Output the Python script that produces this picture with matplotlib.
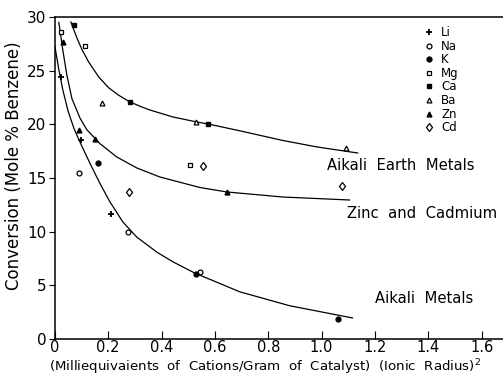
import matplotlib
matplotlib.use("Agg")
import matplotlib.pyplot as plt

# measured points, one list per cation
li_x = [0.022, 0.097, 0.21]
li_y = [24.4, 18.5, 11.6]
na_x = [0.09, 0.273, 0.543]
na_y = [15.5, 10.0, 6.2]
k_x = [0.161, 0.53, 1.06]
k_y = [16.4, 6.1, 1.9]
mg_x = [0.022, 0.112, 0.506]
mg_y = [28.6, 27.3, 16.2]
ca_x = [0.071, 0.28, 0.573]
ca_y = [29.3, 22.1, 20.0]
ba_x = [0.176, 0.528, 1.093]
ba_y = [22.0, 20.2, 17.8]
zn_x = [0.03, 0.09, 0.15, 0.647]
zn_y = [27.7, 19.5, 18.6, 13.7]
cd_x = [0.277, 0.555, 1.078]
cd_y = [13.7, 16.1, 14.3]

# hand drawn curves
earth_x = [0.060, 0.082, 0.101, 0.127, 0.165, 0.202, 0.240, 0.281, 0.326, 0.356,
           0.442, 0.532, 0.581, 0.693, 0.854, 0.981, 1.135]
earth_y = [29.54, 28.1, 27.0, 25.8, 24.4, 23.4, 22.7, 22.09, 21.62, 21.34,
           20.69, 20.22, 20.0, 19.4, 18.5, 17.9, 17.33]
zinc_x = [0.015, 0.030, 0.045, 0.064, 0.094, 0.120, 0.169, 0.232, 0.307, 0.393,
          0.543, 0.644, 0.854, 1.105]
zinc_y = [29.5, 26.9, 24.6, 22.4, 20.6, 19.5, 18.2, 16.96, 15.94, 15.1,
          14.12, 13.70, 13.23, 12.95]
alk_x = [0.0, 0.015, 0.030, 0.050, 0.072, 0.097, 0.131, 0.169, 0.206, 0.255,
         0.307, 0.382, 0.442, 0.524, 0.693, 0.880, 1.116]
alk_y = [27.3, 25.1, 23.2, 21.2, 19.6, 18.2, 16.4, 14.5, 12.8, 10.9,
         9.5, 8.1, 7.2, 6.15, 4.4, 3.1, 1.96]

xticks = [0, 0.2, 0.4, 0.6, 0.8, 1.0, 1.2, 1.4, 1.6]
xticklabels = ["0", "0.2", "0.4", "0.6", "0.8", "1.0", "1.2", "1.4", "1.6"]
yticks = [0, 5, 10, 15, 20, 25, 30]

fig = plt.figure(figsize=(5.03, 3.77), dpi=100)
ax = fig.add_axes([0.109, 0.1008, 0.891, 0.8541])

for cx, cy in [(earth_x, earth_y), (zinc_x, zinc_y), (alk_x, alk_y)]:
  ax.plot(cx, cy, "-", color="black", lw=0.9, solid_joinstyle="round")

ms = 3.5
ax.plot(li_x, li_y, "+", color="black", ms=ms+1, mew=1.3, ls="none", label="Li")
ax.plot(na_x, na_y, "o", mfc="white", mec="black", ms=ms, mew=0.9, ls="none", label="Na")
ax.plot(k_x, k_y, "o", color="black", ms=ms, ls="none", label="K")
ax.plot(mg_x, mg_y, "s", mfc="white", mec="black", ms=ms, mew=0.9, ls="none", label="Mg")
ax.plot(ca_x, ca_y, "s", color="black", ms=ms, ls="none", label="Ca")
ax.plot(ba_x, ba_y, "^", mfc="white", mec="black", ms=ms, mew=0.9, ls="none", label="Ba")
ax.plot(zn_x, zn_y, "^", color="black", ms=ms, ls="none", label="Zn")
ax.plot(cd_x, cd_y, "d", mfc="white", mec="black", ms=ms+1, mew=0.9, ls="none", label="Cd")

ax.legend(loc="upper left", bbox_to_anchor=(0.812, 0.99), frameon=False, fontsize=8.5,
          handlelength=0.8, handletextpad=0.6, labelspacing=0.05, borderpad=0)

ax.text(1.019, 16.2, "Aikali  Earth  Metals", fontsize=10.6, va="center")
ax.text(1.097, 11.65, "Zinc  and  Cadmium", fontsize=10.6, va="center")
ax.text(1.199, 3.8, "Aikali  Metals", fontsize=10.6, va="center")

ax.set_xlim(0, 1.68)
ax.set_ylim(0, 30)
ax.set_xticks(xticks)
ax.set_xticklabels(xticklabels)
ax.set_yticks(yticks)
ax.tick_params(axis="x", direction="in", length=6, labelsize=10.5, pad=1)
ax.tick_params(axis="y", direction="out", length=4, labelsize=11, pad=2)
ax.spines["right"].set_visible(False)
for s in ["left", "bottom", "top"]:
  ax.spines[s].set_linewidth(1.1)

ax.set_xlabel(r"(Milliequivaients  of  Cations/Gram  of  Catalyst)  (Ionic  Radius)$^2$",
              fontsize=9.6)
ax.xaxis.set_label_coords(0.47, -0.056)
ax.set_ylabel("Conversion (Mole % Benzene)", fontsize=12)
ax.yaxis.set_label_coords(-0.071, 0.537)

fig.savefig("out.png", dpi=100)
